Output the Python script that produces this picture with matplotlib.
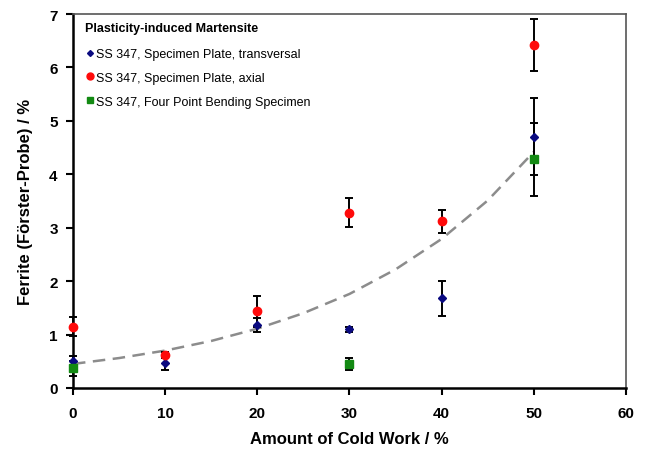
import numpy as np
import matplotlib
matplotlib.use('Agg')
import matplotlib.pyplot as plt
from matplotlib.lines import Line2D

plt.rcParams['font.family'] = ['Liberation Sans', 'DejaVu Sans']

# cold work levels and ferrite readings
x_trans = [0, 10, 20, 30, 40, 50]
y_trans = [0.50, 0.47, 1.18, 1.10, 1.68, 4.70]
e_trans = [0.10, 0.14, 0.13, 0.05, 0.33, 0.72]

x_axial = [0, 10, 20, 30, 40, 50]
y_axial = [1.15, 0.62, 1.44, 3.28, 3.12, 6.42]
e_axial = [0.18, 0.05, 0.29, 0.27, 0.22, 0.48]

x_bend = [0, 30, 50]
y_bend = [0.37, 0.45, 4.28]
e_bend = [0.14, 0.12, 0.68]

# dashed trend line
x_trend = [0, 5, 10, 15, 20, 25, 30, 35, 40, 45, 50]
y_trend = [0.45, 0.56, 0.70, 0.88, 1.11, 1.40, 1.76, 2.22, 2.79, 3.51, 4.42]

labels = ['SS 347, Specimen Plate, transversal',
          'SS 347, Specimen Plate, axial',
          'SS 347, Four Point Bending Specimen']
colors = ['#0a0a80', '#ff0a0a', '#138a13']

fig = plt.figure(figsize=(6.46, 4.56), dpi=100)
ax = fig.add_axes([0.113, 0.147, 0.856, 0.820])

ax.plot(x_trend, y_trend, '--', color='#8c8c8c', lw=1.8, dashes=(5, 3), zorder=1)

series = [(x_trans, y_trans, e_trans, 'D', 4),
          (x_axial, y_axial, e_axial, 'o', 6),
          (x_bend, y_bend, e_bend, 's', 6)]
for (xs, ys, es, mk, ms), col in zip(series, colors):
    ax.errorbar(xs, ys, yerr=es, fmt='none', ecolor='black', elinewidth=1.4,
                capsize=3, capthick=1.4, zorder=2, clip_on=False)
    ax.plot(xs, ys, mk, color=col, ms=ms, zorder=3, clip_on=False)

ax.set_xlim(0, 60)
ax.set_ylim(0, 7)
ax.set_xticks(range(0, 61, 10))
ax.set_yticks(range(0, 8))
ax.tick_params(direction='out', length=5, width=1.5, labelsize=11)
ax.tick_params(axis='x', pad=8)
ax.tick_params(axis='y', pad=6)
for lab in ax.get_xticklabels() + ax.get_yticklabels():
    lab.set_fontweight('bold')
ax.spines['left'].set_linewidth(1.8)
ax.spines['bottom'].set_linewidth(1.8)
ax.spines['top'].set_color('#555555')
ax.spines['right'].set_color('#555555')
ax.spines['top'].set_linewidth(1.2)
ax.spines['right'].set_linewidth(1.2)

ax.set_xlabel('Amount of Cold Work / %', fontsize=12, fontweight='bold', labelpad=8)
ax.set_ylabel('Ferrite (Förster-Probe) / %', fontsize=12, fontweight='bold', labelpad=12)

handles = [Line2D([], [], ls='none', marker=s[3], ms=s[4] - 1, color=c)
           for s, c in zip(series, colors)]
leg = ax.legend(handles, labels, loc='upper left', bbox_to_anchor=(0.005, 1.002),
                frameon=False, fontsize=9, title='Plasticity-induced Martensite',
                title_fontproperties={'weight': 'bold', 'size': 9}, handletextpad=0.15,
                handlelength=0.8, labelspacing=0.95, borderaxespad=0.3)
leg._legend_box.align = 'left'
leg._legend_box.sep = 10

fig.savefig('out.png', dpi=100)
